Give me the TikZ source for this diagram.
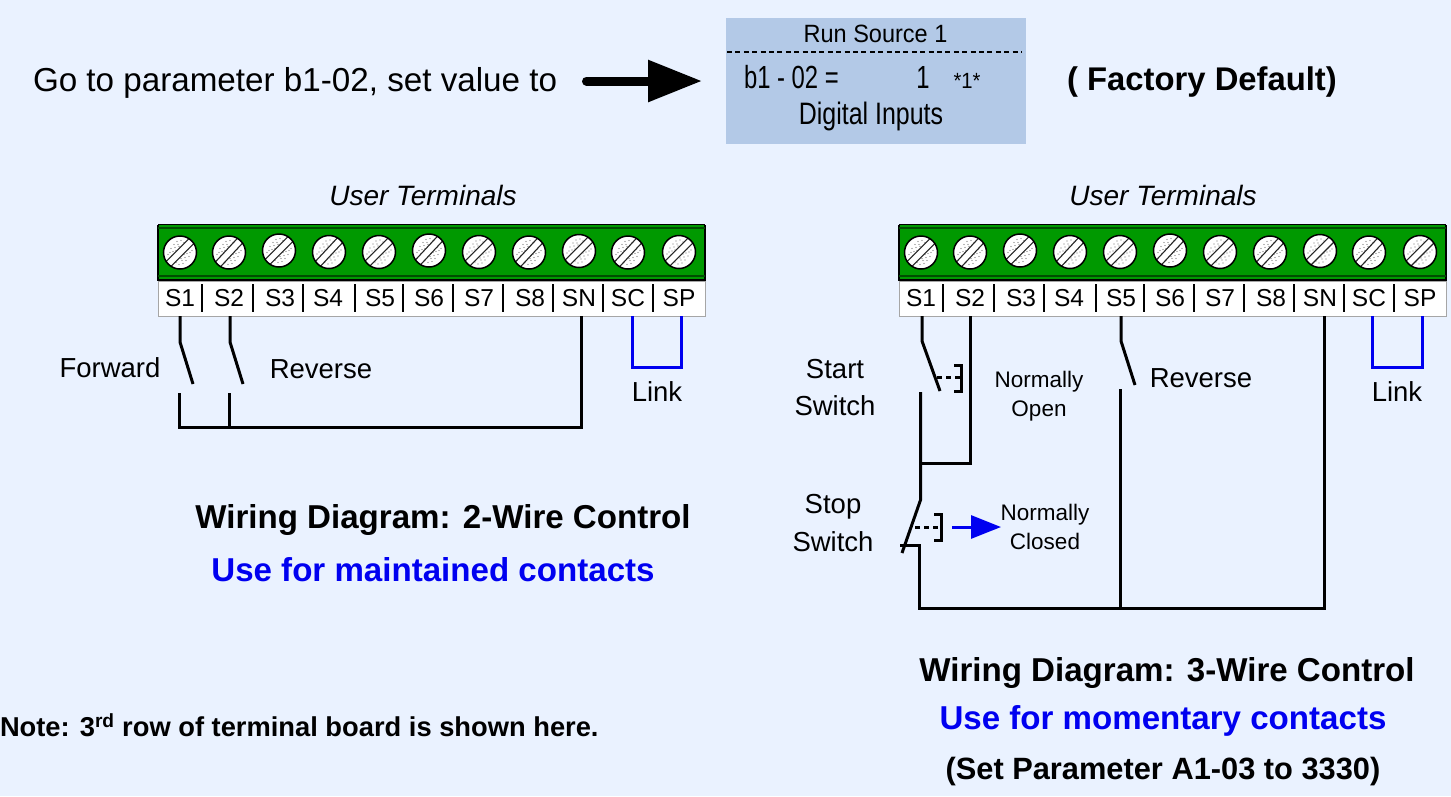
\documentclass[tikz,border=0pt]{standalone}
\usepackage{fontspec}
\setmainfont{Liberation Sans}
\usetikzlibrary{arrows.meta}
\definecolor{bgc}{HTML}{EAF2FF}
\definecolor{lcdc}{HTML}{B3C9E7}
\definecolor{greenc}{HTML}{009900}
\definecolor{darkg}{HTML}{004D00}
\definecolor{bluec}{HTML}{0000F0}
\newcommand{\fsz}[1]{\fontsize{#1}{#1}\selectfont}
\tikzset{
  txt/.style={inner sep=0pt,outer sep=0pt,text=black,align=center},
  wire/.style={draw=black,line width=3pt,line join=miter},
  linkw/.style={draw=bluec,line width=3pt},
  cdash/.style={draw=black,line width=3pt,dash pattern=on 5pt off 4pt},
  brk/.style={draw=black,line width=3pt},
  term/.style={inner sep=0pt,outer sep=0pt,minimum height=35pt,minimum width=30pt,font=\fsz{24.5}},
}
% board: prefix, x offset
\newcommand{\board}[2]{%
  \begin{scope}[shift={(#2,0)}]
    \fill[white] (158,281) rectangle (705,316);
    \draw[gray!70,line width=1pt] (158,281) rectangle (705,316);
    \fill[greenc] (158,224) rectangle (705,280);
    \draw[black,line width=1.5pt] (158,224.5) -- (705,224.5) (158,224.5) -- (158,280) -- (705,280) -- (705,224.5);
    \draw[darkg,line width=1.4pt] (158,228) -- (705,228) (158,276) -- (705,276);
    \foreach \nm/\x/\yy/\ang in {S1/180/252.5/45,S2/229/252.5/47,S3/279/250.5/45,SA/329/252/47,SB/379/252/45,SC/429/250.5/47,SD/479/252/45,SE/529/252.5/47,SF/579/251/45,SG/628/252.5/47,SH/679/252/45}{
      \begin{scope}[shift={(\x,\yy)}]
        \fill[white] (0,0) circle[radius=16.5pt];
        \foreach \dx/\dy in {-9/-4,-6/-8,-3/-11,-10/0,-7/-1,-5/-5,-2/-8,1/-12,-8/3,-4/-2,-1/-6,4/-10,
                             9/4,6/8,3/11,10/0,7/1,5/5,2/8,-1/12,8/-3,4/2,1/6,-4/10,12/-2,-12/2}{
          \fill[black!55] (\dx,\dy) circle[radius=.7pt];}
        \begin{scope}[rotate=\ang]
          \fill[white] (-16,-3.5) rectangle (16,3.5);
          \draw[black!85,line width=1.1pt] (-16,-3.5) -- (16,-3.5) (-16,3.5) -- (16,3.5);
        \end{scope}
        \draw[black,line width=1.5pt] (0,0) circle[radius=16.5pt];
      \end{scope}}
    \foreach \x in {202,253,303,355,403,453,503,553,603,653}{
      \draw[black,line width=1.2pt] (\x,284) -- (\x,312);}
  \end{scope}
  \foreach \t/\x in {S1/180,S2/229,S3/280,S4/328,S5/380,S6/429,S7/479,S8/530,SN/579,SC/628,SP/679}{
    \node[term] (#1\t) at ({\x+#2},298.5) {\t};}
}
\begin{document}
\begin{tikzpicture}[x=1pt,y=-1pt]
\useasboundingbox (0,0) rectangle (1451,796);
\fill[bgc] (0,0) rectangle (1451,796);

% header
\node[txt,anchor=west,font=\fsz{33.2}] (goto) at (33,83) {Go to parameter b1-02, set value to};
\node[fill=lcdc,minimum width=300pt,minimum height=126pt,inner sep=0pt,outer sep=0pt,anchor=north west] (lcd) at (726,18) {};
\coordinate (arrS) at (586.5,81);
\draw[line width=9pt,line cap=round,-{Triangle[length=54pt,width=40pt]}] (arrS) -- ([xshift=-24pt]lcd.west |- arrS);
\coordinate (dashL) at (727,52);
\coordinate (dashR) at (1022,52);
\draw[black,line width=1.8pt,dash pattern=on 5pt off 3.4pt] (dashL) -- (dashR);
\node[txt,font=\fsz{25}] (lcd1) at (875.5,34) {\scalebox{.94}[1]{Run Source 1}};
\node[txt,anchor=base west,font=\fsz{32}] (lcd2a) at (744,88) {\scalebox{.745}[1]{b1 - 02 =}};
\node[txt,anchor=base,font=\fsz{32}] (lcd2b) at (923,88) {\scalebox{.745}[1]{1}};
\node[txt,anchor=base,font=\fsz{22}] (lcd2c) at (967,88) {\scalebox{.92}[1]{*1*}};
\node[txt,font=\fsz{31}] (lcd3) at (871,116) {\scalebox{.805}[1]{Digital Inputs}};
\node[txt,font=\bfseries\fsz{32.8}] (fd) at (1202,82) {( Factory Default)};

\node[txt,font=\itshape\fsz{28}] (ut1) at (423,195) {User Terminals};
\node[txt,font=\itshape\fsz{28}] (ut2) at (1163,195) {User Terminals};

\board{a}{0}
\board{b}{741}

% 2-wire
\coordinate (a1k) at (180,342); \coordinate (a1e) at (193,384);
\coordinate (a2k) at (230,342); \coordinate (a2e) at (243,384);
\coordinate (a1b) at (179,393); \coordinate (a2b) at (229,393);
\coordinate (a1c) at (179,427); \coordinate (a2c) at (229,427);
\coordinate (aNc) at (581,427);
\draw[wire] (aS1.south) -- (a1k) -- (a1e);
\draw[wire] (aS2.south) ++(1,0) -- (a2k) -- (a2e);
\draw[wire] (a1b) -- (a1c) -- (aNc) -- ([xshift=2pt]aSN.south);
\draw[wire] (a2b) -- (a2c);
\draw[linkw] ([xshift=4pt]aSC.south) -- ++(0,51) -| ([xshift=2pt]aSP.south);
\node[txt,font=\fsz{27.5}] (fw) at (110,368) {Forward};
\node[txt,font=\fsz{27.5}] (rv) at (321,369) {Reverse};
\node[txt,font=\fsz{27.5}] (lk1) at (657,392) {Link};
\node[txt,font=\bfseries\fsz{33.1}] (t1) at (443,520) {Wiring Diagram: 2-Wire Control};
\node[txt,font=\bfseries\fsz{33.1},text=bluec] (t2) at (433,570) {Use for maintained contacts};
\node[txt,anchor=west,font=\bfseries\fsz{27.3}] (note) at (0,725) {Note: 3\textsuperscript{rd} row of terminal board is shown here.};

% 3-wire
\coordinate (b1k) at (922,341); \coordinate (b1e) at (940,391);
\coordinate (bLt) at (920.5,392); \coordinate (bLj) at (920.5,463); \coordinate (bLk) at (920.5,500);
\coordinate (bSe) at (902,553);
\coordinate (bXl) at (900,545); \coordinate (bXr) at (919.5,545);
\coordinate (bBl) at (919.5,608); \coordinate (bBm) at (1120,608); \coordinate (bBr) at (1324,608);
\coordinate (b2j) at (970,463);
\coordinate (b5k) at (1121,341); \coordinate (b5e) at (1135,385); \coordinate (b5l) at (1120,389);
\draw[wire] (bS1.south) ++(1,0) -- (b1k) -- (b1e);
\draw[wire] (bLt) -- (bLj) -- (bLk) -- (bSe);
\draw[wire] (bS2.south) -- (b2j) -- (bLj);
\draw[wire] (bXl) -- (bXr) -- (bBl) -- (bBr) -- ([xshift=4pt]bSN.south);
\draw[wire] (bS5.south) -- (b5k) -- (b5e);
\draw[wire] (b5l) -- (bBm);
\draw[linkw] ([xshift=3pt]bSC.south) -- ++(0,51) -| ([xshift=2pt]bSP.south);
% actuators
\coordinate (ad1) at (937,377); \coordinate (ad2) at (961,377);
\coordinate (ad3) at (915,527); \coordinate (ad4) at (941,527);
\draw[cdash] (ad1) -- (ad2);
\draw[brk] (954,365) -- (961,365) -- (961,391) -- (954,391);
\draw[cdash] (ad3) -- (ad4);
\draw[brk] (934,514) -- (941,514) -- (941,540) -- (934,540);
\coordinate (bs) at (952,527); \coordinate (be) at (1001,527);
\draw[draw=bluec,fill=bluec,line width=3pt,-{Triangle[length=30pt,width=23pt,color=bluec]}] (bs) -- (be);

\node[txt,font=\fsz{27.5}] (st1) at (835,369) {Start};
\node[txt,font=\fsz{27.5}] (st2) at (835,406) {Switch};
\node[txt,font=\fsz{27.5}] (sp1) at (833,507) {Stop};
\node[txt,font=\fsz{27.5}] (sp2) at (833,542) {Switch};
\node[txt,font=\fsz{22.5}] (no1) at (1039,382) {Normally};
\node[txt,font=\fsz{22.5}] (no2) at (1039,411) {Open};
\node[txt,font=\fsz{22.5}] (nc1) at (1045,515) {Normally};
\node[txt,font=\fsz{22.5}] (nc2) at (1045,541) {Closed};
\node[txt,font=\fsz{27.5}] (rv2) at (1201,378) {Reverse};
\node[txt,font=\fsz{27.5}] (lk2) at (1397,392) {Link};
\node[txt,font=\bfseries\fsz{33.1}] (t3) at (1167,673) {Wiring Diagram: 3-Wire Control};
\node[txt,font=\bfseries\fsz{33.1},text=bluec] (t4) at (1163,721) {Use for momentary contacts};
\node[txt,font=\bfseries\fsz{30.8}] (t5) at (1163,772) {(Set Parameter A1-03 to 3330)};
\end{tikzpicture}
\end{document}
